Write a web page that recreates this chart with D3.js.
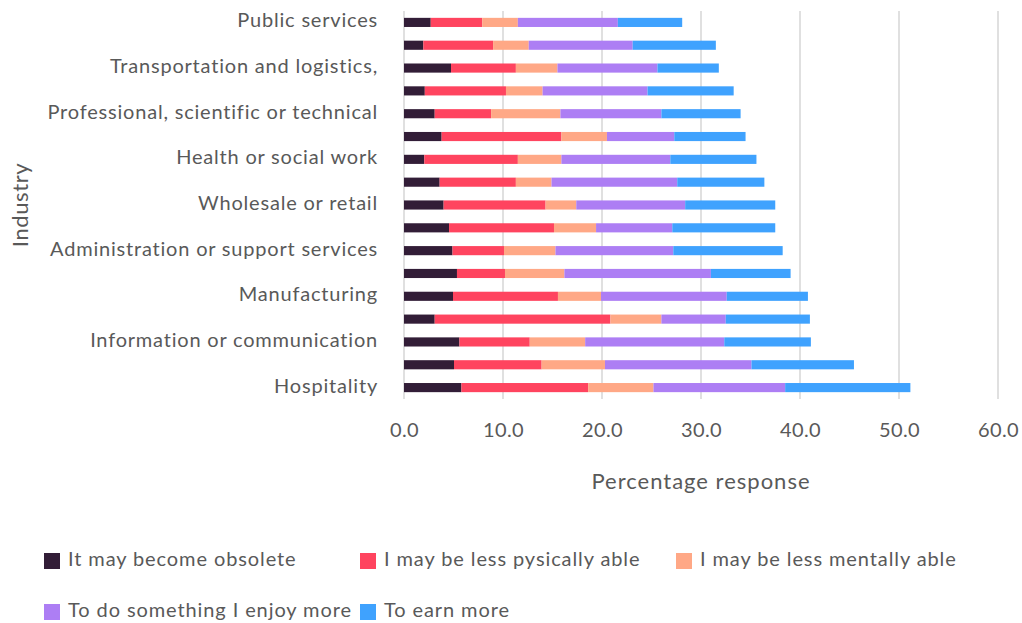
<!DOCTYPE html>
<html>
<head>
<meta charset="utf-8">
<script src="https://cdn.jsdelivr.net/npm/d3@7/dist/d3.min.js"></script>
<style>
  html, body { margin: 0; padding: 0; background: #fff; }
  svg { display: block; }
  text { font-family: Lato, "Open Sans", sans-serif; fill: #595959; }
</style>
</head>
<body>
<div id="chart"></div>
<script>
// ---- Data ----
const industries = [
  "Public services",
  "Education",
  "Transportation and logistics,",
  "Construction",
  "Professional, scientific or technical",
  "Finance or insurance",
  "Health or social work",
  "Arts, entertainment or recreation",
  "Wholesale or retail",
  "Real estate",
  "Administration or support services",
  "Energy or utilities",
  "Manufacturing",
  "Agriculture",
  "Information or communication",
  "Other",
  "Hospitality"
];
const seriesNames = [
  "It may become obsolete",
  "I may be less pysically able",
  "I may be less mentally able",
  "To do something I enjoy more",
  "To earn more"
];
const obsolete  = [2.7, 1.95, 4.75, 2.1, 3.1, 3.8, 2.05, 3.6, 4.0, 4.55, 4.9, 5.35, 4.95, 3.1, 5.6, 5.05, 5.8];
const physical  = [5.2, 7.05, 6.55, 8.2, 5.7, 12.1, 9.45, 7.7, 10.3, 10.6, 5.2, 4.85, 10.6, 17.75, 7.1, 8.85, 12.8];
const mental    = [3.6, 3.6, 4.2, 3.7, 7.0, 4.6, 4.4, 3.6, 3.1, 4.25, 5.2, 6.0, 4.35, 5.15, 5.6, 6.4, 6.6];
const enjoy     = [10.1, 10.5, 10.1, 10.6, 10.2, 6.8, 11.0, 12.7, 11.0, 7.7, 11.9, 14.8, 12.7, 6.5, 14.05, 14.8, 13.3];
const earnMore  = [6.5, 8.4, 6.2, 8.7, 8.0, 7.2, 8.7, 8.8, 9.1, 10.4, 11.05, 8.05, 8.2, 8.5, 8.75, 10.35, 12.65];
const xTicks = [0, 10, 20, 30, 40, 50, 60];
const colors = ["#321d37", "#ff445f", "#ffa886", "#ad7ef4", "#3fa2fe"];

// ---- Build table ----
const seriesValues = [obsolete, physical, mental, enjoy, earnMore];
const rows = industries.map((name, i) => {
  const r = { name };
  seriesNames.forEach((s, j) => r[s] = seriesValues[j][i]);
  return r;
});

const W = 1022, H = 623;
const margin = { left: 404, right: 24, top: 11, bottom: 224 };
const svg = d3.select("#chart").append("svg").attr("width", W).attr("height", H);

const x = d3.scaleLinear().domain([0, 60]).range([margin.left, W - margin.right]);
const y = d3.scaleBand().domain(industries).range([margin.top, H - margin.bottom]).paddingInner(0.6).paddingOuter(0.3);

// gridlines
svg.append("g").selectAll("line").data(xTicks).join("line")
  .attr("x1", d => x(d)).attr("x2", d => x(d))
  .attr("y1", margin.top).attr("y2", H - margin.bottom)
  .attr("stroke", "#d9d9d9").attr("stroke-width", 1.6);

// stacked bars
const stack = d3.stack().keys(seriesNames)(rows);
svg.append("g").selectAll("g").data(stack).join("g")
  .attr("fill", (d, i) => colors[i])
  .selectAll("rect").data(d => d).join("rect")
  .attr("x", d => x(d[0]))
  .attr("width", d => x(d[1]) - x(d[0]))
  .attr("y", d => y(d.data.name))
  .attr("height", y.bandwidth());

// y axis labels (every other category shown)
const yAxis = d3.axisLeft(y).tickSize(0).tickPadding(0)
  .tickFormat((d, i) => i % 2 === 0 ? d : "");
const gy = svg.append("g").attr("transform", `translate(${margin.left - 26},0)`).call(yAxis);
gy.select(".domain").remove();
gy.selectAll("text").style("font-size", "20px").attr("fill", "#595959").attr("dy", "0.25em")
  .style("font-family", "Lato, sans-serif").style("letter-spacing", "0.8px");

// x axis
const xAxis = d3.axisBottom(x).tickValues(xTicks).tickSize(0).tickPadding(0).tickFormat(d3.format(".1f"));
const gx = svg.append("g").attr("transform", `translate(0,${H - margin.bottom + 30})`).call(xAxis);
gx.select(".domain").remove();
gx.selectAll("text").style("font-size", "20px").attr("fill", "#595959").attr("dy", "0.4em")
  .style("font-family", "Lato, sans-serif").style("letter-spacing", "0.4px");

// axis titles
svg.append("text").attr("x", 701).attr("y", 489).attr("text-anchor", "middle")
  .style("font-size", "22px").style("letter-spacing", "1px").text("Percentage response");
svg.append("text").attr("transform", "translate(28,205) rotate(-90)").attr("text-anchor", "middle")
  .style("font-size", "22px").style("letter-spacing", "0.6px").text("Industry");

// legend
const legendPos = [[44, 561], [360, 561], [676, 561], [44, 612], [360, 612]];
const lg = svg.append("g").selectAll("g").data(seriesNames).join("g")
  .attr("transform", (d, i) => `translate(${legendPos[i][0]},${legendPos[i][1]})`);
lg.append("rect").attr("x", 0).attr("y", -8).attr("width", 16).attr("height", 16)
  .attr("fill", (d, i) => colors[i]);
lg.append("text").attr("x", 24).attr("y", -1).attr("dy", "0.3em")
  .style("font-size", "20px").style("letter-spacing", "0.9px").text(d => d);
</script>
</body>
</html>
